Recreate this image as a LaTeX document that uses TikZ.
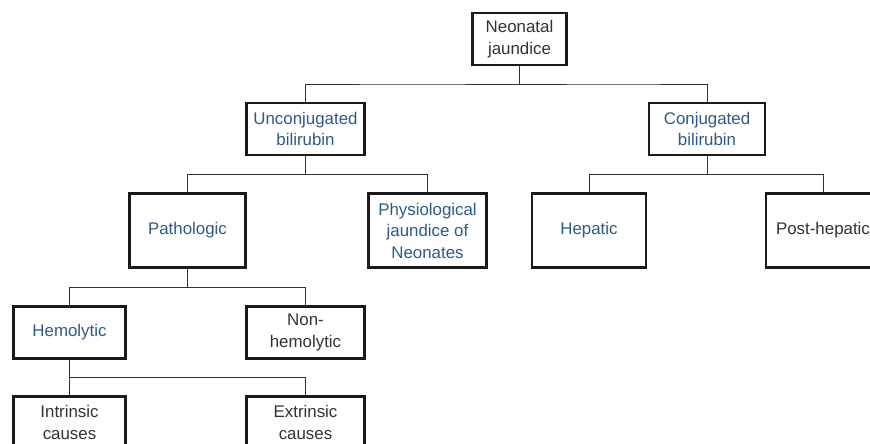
\documentclass[tikz,border=0pt]{standalone}
\usepackage{fontspec}
\setmainfont{Liberation Sans}
\usetikzlibrary{positioning,calc}
\definecolor{jblue}{HTML}{2F5A88}
\definecolor{jdark}{HTML}{333333}
\definecolor{jline}{HTML}{1A1A1A}

\begin{document}
\begin{tikzpicture}[x=0.025cm,y=-0.025cm,font=\fontsize{12}{15.3}\selectfont,
  box/.style={draw=jline,line width=1.8pt,fill=white,align=center,text=jdark,minimum width=2.95cm,minimum height=1.29cm,inner sep=0pt},
  tallbox/.style={box,minimum height=1.86cm},
  blue/.style={text=jblue},
  link/.style={draw=jdark,line width=0.7pt}]
\clip (0,0) rectangle (870,444);
% root
\node[box,minimum width=2.36cm] (nj) at (519.5,39) {Neonatal\\jaundice};
% bilirubin type
\node[box,blue] (unconj) at (305.5,129) {Unconjugated\\bilirubin};
\node[box,blue,minimum width=2.89cm] (conj) at (707,129) {Conjugated\\bilirubin};
% third row
\node[tallbox,blue,minimum width=2.91cm] (patho) at (187.5,230.5) {Pathologic};
\node[tallbox,blue] (physio) at (427.5,230.5) {Physiological\\jaundice of\\Neonates};
\node[tallbox,blue,minimum width=2.84cm] (hepatic) at (589,230.5) {Hepatic};
\node[tallbox,minimum width=2.84cm] (posthep) at (823,230.5) {Post-hepatic};
% pathologic branch
\node[box,blue,minimum width=2.81cm] (hemo) at (69.5,332.5) {Hemolytic};
\node[box] (nonhemo) at (305.5,332.5) {Non-\\hemolytic};
\node[box,minimum width=2.81cm] (intrin) at (69.5,422.5) {Intrinsic\\causes};
\node[box] (extrin) at (305.5,422.5) {Extrinsic\\causes};
% connectors
\foreach \p/\c in {nj/unconj,nj/conj,unconj/patho,unconj/physio,conj/hepatic,conj/posthep,patho/hemo,patho/nonhemo,hemo/intrin,hemo/extrin}{\draw[link] (\p.south) |- ($(\p.south)!.5!(\c.north)$) -| (\c.north);}
\end{tikzpicture}
\end{document}
